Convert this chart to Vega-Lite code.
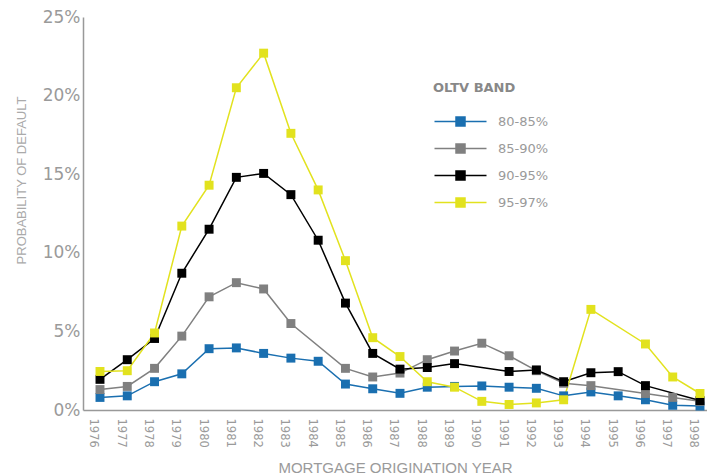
{
  "$schema": "https://vega.github.io/schema/vega-lite/v6.json",
  "autosize": "none",
  "width": 624,
  "height": 393,
  "padding": {"left": 83, "top": 17, "right": 0, "bottom": 66},
  "background": "white",
  "config": {"view": {"stroke": null}},
  "data": {"values": [
    {"year": 1976, "band": "80-85%", "pct": 0.8},
    {"year": 1977, "band": "80-85%", "pct": 0.9},
    {"year": 1978, "band": "80-85%", "pct": 1.8},
    {"year": 1979, "band": "80-85%", "pct": 2.3},
    {"year": 1980, "band": "80-85%", "pct": 3.9},
    {"year": 1981, "band": "80-85%", "pct": 3.95},
    {"year": 1982, "band": "80-85%", "pct": 3.6},
    {"year": 1983, "band": "80-85%", "pct": 3.3},
    {"year": 1984, "band": "80-85%", "pct": 3.1},
    {"year": 1985, "band": "80-85%", "pct": 1.65},
    {"year": 1986, "band": "80-85%", "pct": 1.35},
    {"year": 1987, "band": "80-85%", "pct": 1.06},
    {"year": 1988, "band": "80-85%", "pct": 1.45},
    {"year": 1989, "band": "80-85%", "pct": 1.5},
    {"year": 1990, "band": "80-85%", "pct": 1.53},
    {"year": 1991, "band": "80-85%", "pct": 1.45},
    {"year": 1992, "band": "80-85%", "pct": 1.38},
    {"year": 1993, "band": "80-85%", "pct": 0.9},
    {"year": 1994, "band": "80-85%", "pct": 1.15},
    {"year": 1995, "band": "80-85%", "pct": 0.9},
    {"year": 1996, "band": "80-85%", "pct": 0.65},
    {"year": 1997, "band": "80-85%", "pct": 0.3},
    {"year": 1998, "band": "80-85%", "pct": 0.25},
    {"year": 1976, "band": "85-90%", "pct": 1.3},
    {"year": 1977, "band": "85-90%", "pct": 1.5},
    {"year": 1978, "band": "85-90%", "pct": 2.65},
    {"year": 1979, "band": "85-90%", "pct": 4.7},
    {"year": 1980, "band": "85-90%", "pct": 7.2},
    {"year": 1981, "band": "85-90%", "pct": 8.1},
    {"year": 1982, "band": "85-90%", "pct": 7.7},
    {"year": 1983, "band": "85-90%", "pct": 5.5},
    {"year": 1985, "band": "85-90%", "pct": 2.65},
    {"year": 1986, "band": "85-90%", "pct": 2.1},
    {"year": 1987, "band": "85-90%", "pct": 2.35},
    {"year": 1988, "band": "85-90%", "pct": 3.2},
    {"year": 1989, "band": "85-90%", "pct": 3.75},
    {"year": 1990, "band": "85-90%", "pct": 4.25},
    {"year": 1991, "band": "85-90%", "pct": 3.45},
    {"year": 1992, "band": "85-90%", "pct": 2.5},
    {"year": 1993, "band": "85-90%", "pct": 1.7},
    {"year": 1994, "band": "85-90%", "pct": 1.55},
    {"year": 1996, "band": "85-90%", "pct": 1.05},
    {"year": 1997, "band": "85-90%", "pct": 0.8},
    {"year": 1998, "band": "85-90%", "pct": 0.55},
    {"year": 1976, "band": "90-95%", "pct": 1.95},
    {"year": 1977, "band": "90-95%", "pct": 3.2},
    {"year": 1978, "band": "90-95%", "pct": 4.55},
    {"year": 1979, "band": "90-95%", "pct": 8.7},
    {"year": 1980, "band": "90-95%", "pct": 11.5},
    {"year": 1981, "band": "90-95%", "pct": 14.8},
    {"year": 1982, "band": "90-95%", "pct": 15.05},
    {"year": 1983, "band": "90-95%", "pct": 13.7},
    {"year": 1984, "band": "90-95%", "pct": 10.8},
    {"year": 1985, "band": "90-95%", "pct": 6.8},
    {"year": 1986, "band": "90-95%", "pct": 3.6},
    {"year": 1987, "band": "90-95%", "pct": 2.6},
    {"year": 1988, "band": "90-95%", "pct": 2.7},
    {"year": 1989, "band": "90-95%", "pct": 2.95},
    {"year": 1991, "band": "90-95%", "pct": 2.45},
    {"year": 1992, "band": "90-95%", "pct": 2.55},
    {"year": 1993, "band": "90-95%", "pct": 1.8},
    {"year": 1994, "band": "90-95%", "pct": 2.37},
    {"year": 1995, "band": "90-95%", "pct": 2.44},
    {"year": 1996, "band": "90-95%", "pct": 1.55},
    {"year": 1998, "band": "90-95%", "pct": 0.6},
    {"year": 1976, "band": "95-97%", "pct": 2.45},
    {"year": 1977, "band": "95-97%", "pct": 2.5},
    {"year": 1978, "band": "95-97%", "pct": 4.9},
    {"year": 1979, "band": "95-97%", "pct": 11.7},
    {"year": 1980, "band": "95-97%", "pct": 14.3},
    {"year": 1981, "band": "95-97%", "pct": 20.5},
    {"year": 1982, "band": "95-97%", "pct": 22.7},
    {"year": 1983, "band": "95-97%", "pct": 17.6},
    {"year": 1984, "band": "95-97%", "pct": 14.0},
    {"year": 1985, "band": "95-97%", "pct": 9.5},
    {"year": 1986, "band": "95-97%", "pct": 4.6},
    {"year": 1987, "band": "95-97%", "pct": 3.4},
    {"year": 1988, "band": "95-97%", "pct": 1.8},
    {"year": 1989, "band": "95-97%", "pct": 1.45},
    {"year": 1990, "band": "95-97%", "pct": 0.55},
    {"year": 1991, "band": "95-97%", "pct": 0.35},
    {"year": 1992, "band": "95-97%", "pct": 0.45},
    {"year": 1993, "band": "95-97%", "pct": 0.65},
    {"year": 1994, "band": "95-97%", "pct": 6.4},
    {"year": 1996, "band": "95-97%", "pct": 4.2},
    {"year": 1997, "band": "95-97%", "pct": 2.1},
    {"year": 1998, "band": "95-97%", "pct": 1.05}
  ]},
  "encoding": {
    "x": {
      "field": "year", "type": "quantitative",
      "scale": {"domain": [1975.377, 1998.257], "nice": false, "zero": false},
      "axis": {
        "title": "MORTGAGE ORIGINATION YEAR",
        "values": [1976,1977,1978,1979,1980,1981,1982,1983,1984,1985,1986,1987,1988,1989,1990,1991,1992,1993,1994,1995,1996,1997,1998],
        "format": "d",
        "labelAngle": 90,
        "labelOffset": -7,
        "labelPadding": 8,
        "labelFont": "DejaVu Sans",
        "labelFontSize": 11.5,
        "labelColor": "#9a9a9a",
        "labelFlush": false,
        "labelOverlap": false,
        "ticks": false,
        "grid": false,
        "domainColor": "#999999",
        "domainWidth": 1.5,
        "titleFont": "Liberation Sans",
        "titleFontSize": 15,
        "titleFontWeight": "normal",
        "titleColor": "#9a9a9a",
        "titleBaseline": "alphabetic",
        "titleY": 62
      }
    },
    "y": {
      "field": "pct", "type": "quantitative",
      "scale": {"domain": [0, 25], "nice": false},
      "axis": {
        "title": "PROBABILITY OF DEFAULT",
        "values": [0, 5, 10, 15, 20, 25],
        "labelExpr": "datum.value + '%'",
        "labelPadding": 3,
        "labelFont": "DejaVu Sans",
        "labelFontSize": 17,
        "labelColor": "#9a9a9a",
        "ticks": false,
        "grid": false,
        "domainColor": "#999999",
        "domainWidth": 1.5,
        "titleFont": "Liberation Sans",
        "titleFontSize": 13,
        "titleFontWeight": "normal",
        "titleColor": "#aaaaaa",
        "titleAngle": -90,
        "titleBaseline": "alphabetic",
        "titleAlign": "center",
        "titleX": -58,
        "titleY": 163
      }
    },
    "color": {
      "field": "band", "type": "nominal",
      "scale": {"domain": ["80-85%", "85-90%", "90-95%", "95-97%"], "range": ["#1a6fb0", "#808080", "#000000", "#e2e21e"]},
      "legend": {
        "title": "OLTV BAND",
        "orient": "none",
        "legendX": 350,
        "legendY": 65,
        "symbolType": "M-1,0L9.4,0M3.3,-0.9L5.1,-0.9L5.1,0.9L3.3,0.9Z",
        "symbolSize": 100,
        "symbolStrokeWidth": 1.5,
        "labelFont": "DejaVu Sans",
        "labelFontSize": 13,
        "labelColor": "#9a9a9a",
        "labelOffset": 52,
        "rowPadding": 12,
        "titleFont": "DejaVu Sans",
        "titleFontSize": 13,
        "titleFontWeight": "bold",
        "titleColor": "#888888",
        "titlePadding": 20,
        "encode": {"symbols": {"update": {
          "fill": {"scale": "color", "field": "value"},
          "stroke": {"scale": "color", "field": "value"},
          "opacity": {"value": 1}
        }}}
      }
    }
  },
  "layer": [
    {"mark": {"type": "line", "strokeWidth": 1.5}},
    {"mark": {"type": "point", "shape": "square", "filled": true, "size": 80, "opacity": 1}}
  ]
}
